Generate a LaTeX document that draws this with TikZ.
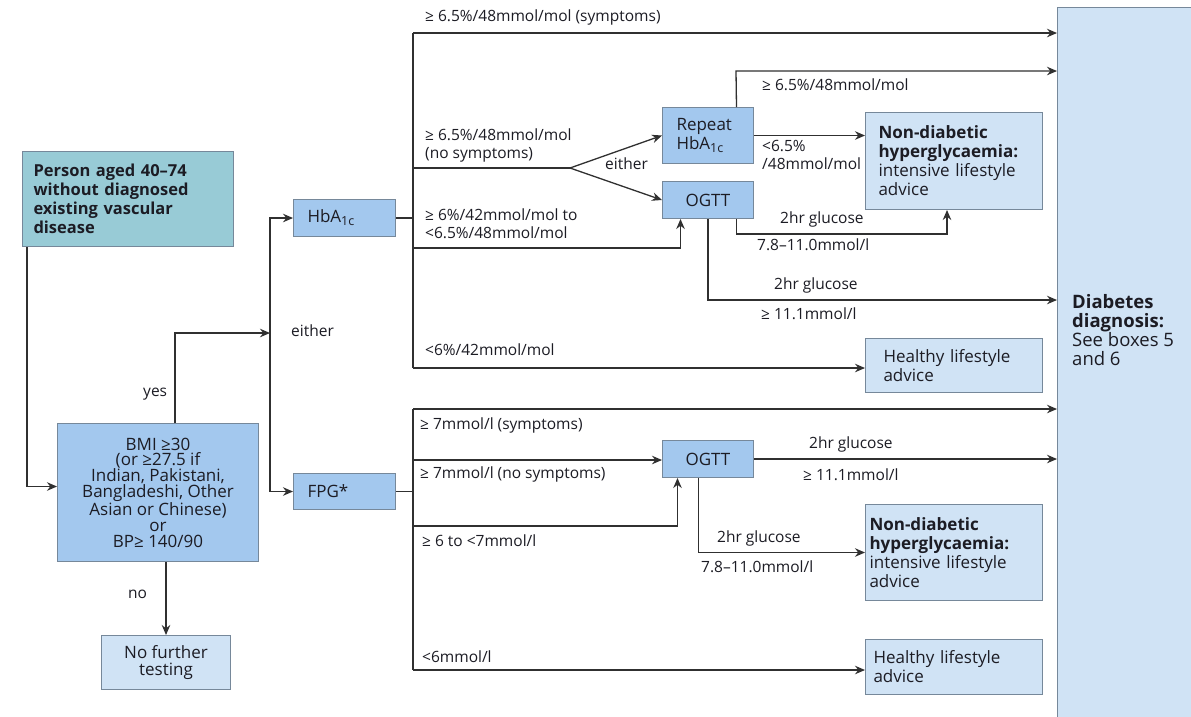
\documentclass[tikz,border=0pt]{standalone}
\usepackage{fontspec}
\setmainfont{Open Sans}
\usetikzlibrary{arrows.meta}

\definecolor{tealfill}{HTML}{98CBD6}
\definecolor{midblue}{HTML}{A3C8EE}
\definecolor{paleblue}{HTML}{D0E3F5}
\definecolor{boxline}{HTML}{76889A}
\definecolor{inkline}{HTML}{303030}
\definecolor{inktext}{HTML}{1C1C24}

% HbA1c with its larger subscript
\newcommand{\hbaonec}{HbA\raisebox{-0.35ex}{\fontsize{12.5}{12.5}\selectfont 1c}}

\tikzset{
    box/.style={draw=boxline, line width=1pt, anchor=north west, inner sep=0pt, text=inktext,
        font=\fontsize{17}{19}\selectfont},
    tealbox/.style={box, fill=tealfill, align=left, inner xsep=11pt},
    midbox/.style={box, fill=midblue},
    palebox/.style={box, fill=paleblue, align=left, inner xsep=13pt},
    lbl/.style={anchor=west, inner sep=0pt, text=inktext, align=left},
    conn/.style={draw=inkline, line width=1.3pt},
    arr/.style={conn, -{Stealth[length=10pt,width=8.5pt]}}
}

\begin{document}
\begin{tikzpicture}[x=1pt,y=-1pt,font=\fontsize{15.5}{18}\selectfont]
    \clip (0,0) rectangle (1191,716);
    \fill[white] (0,0) rectangle (1191,716);

    % Draw the boxes on the left
    \node[tealbox, minimum width=211pt, minimum height=95pt, text width=189pt,
        font=\fontsize{16.5}{19}\selectfont\bfseries] (person) at (22,151)
        {Person aged 40--74\\without diagnosed\\existing vascular\\disease};
    \node[midbox, minimum width=201pt, minimum height=138pt, align=center,
        font=\fontsize{17}{15.8}\selectfont] (bmi) at (57,423)
        {BMI ≥30\\(or ≥27.5 if\\Indian, Pakistani,\\Bangladeshi, Other\\Asian or Chinese)\\or\\BP≥ 140/90};
    \node[box, fill=paleblue, minimum width=129pt, minimum height=54pt, align=center,
        font=\fontsize{17}{17}\selectfont] (nof) at (101,635) {No further\\testing};

    % Draw the first tests
    \node[midbox, minimum width=102pt, minimum height=37pt, align=left,
        inner xsep=14pt, text width=74pt] (hba) at (293,199) {\hbaonec};
    \node[midbox, minimum width=102pt, minimum height=36pt, align=left,
        inner xsep=14pt, text width=74pt] (fpg) at (293,473) {FPG*};

    % Draw the second tests
    \node[midbox, minimum width=91pt, minimum height=56pt, align=left,
        inner xsep=14pt, text width=63pt, font=\fontsize{17}{19}\selectfont] (rep) at (662,107)
        {Repeat\\\hbaonec};
    \node[midbox, minimum width=91pt, minimum height=37pt] (ogtta) at (662,181) {OGTT};
    \node[midbox, minimum width=91pt, minimum height=37pt] (ogttb) at (662,440) {OGTT};

    % Draw the outcome boxes
    \node[palebox, minimum width=177pt, minimum height=97pt, text width=151pt] (nda) at (865,112)
        {\textbf{Non-diabetic}\\\textbf{hyperglycaemia:}\\intensive lifestyle\\advice};
    \node[palebox, minimum width=177pt, minimum height=54pt, text width=141pt, inner xsep=18pt] (hla) at (865,338)
        {Healthy lifestyle\\advice};
    \node[palebox, minimum width=177pt, minimum height=96pt, text width=169pt, inner xsep=4pt] (ndb) at (865,504)
        {\textbf{Non-diabetic}\\\textbf{hyperglycaemia:}\\intensive lifestyle\\advice};
    \node[palebox, minimum width=177pt, minimum height=55pt, text width=161pt, inner xsep=8pt] (hlb) at (865,639)
        {Healthy lifestyle\\advice};
    \node[box, fill=paleblue, minimum width=150pt, minimum height=730pt] (diag) at (1057,7) {};
    \node[lbl, font=\fontsize{18.5}{19.2}\selectfont] (diagtxt) at (1072,330)
        {\textbf{Diabetes}\\\textbf{diagnosis:}\\See boxes 5\\and 6};

    % Connect the screening steps
    \coordinate (split) at (270,333);
    \draw[arr] ([xshift=5pt]person.south west) |- ([yshift=6pt]bmi.west);
    \draw[arr] ([xshift=17pt]bmi.north) |- (split);
    \draw[arr] (split) |- (hba.west);
    \draw[arr] (split) |- (fpg.west);
    \draw[arr] (nof.north |- bmi.south) -- (nof.north);
    \node[lbl] (yes) at (143,394) {yes};
    \node[lbl] (either) at (291,331) {either};
    \node[lbl] (no) at (128,594) {no};

    % HbA1c branches
    \coordinate (ht) at (413,33);
    \coordinate (h2) at (413,168);
    \coordinate (h3) at (413,248);
    \coordinate (hb) at (413,368);
    \coordinate (fork) at (570,168);
    \draw[conn] (hba.east) -- (hba.east -| ht);
    \draw[conn] (ht) -- (hb);
    \draw[arr] (ht) -- (ht -| diag.west);
    \draw[conn] (h2) -- (fork);
    \draw[arr] (fork) -- (rep.west);
    \draw[arr] (fork) -- (ogtta.west);
    \draw[arr] (h3) -| ([xshift=-27.5pt]ogtta.south);
    \draw[arr] (hb) -- (hb -| hla.west);
    \node[lbl] (l1) at (425,17) {≥ 6.5\%/48mmol/mol (symptoms)};
    \node[lbl] (l2) at (425,145) {≥ 6.5\%/48mmol/mol\\(no symptoms)};
    \node[lbl] (l3) at (605,164) {either};
    \node[lbl] (l4) at (425,224) {≥ 6\%/42mmol/mol to\\<6.5\%/48mmol/mol};
    \node[lbl] (l5) at (425,350) {<6\%/42mmol/mol};

    % Repeat HbA1c and OGTT branches
    \coordinate (rt) at (736,71);
    \coordinate (oa1) at (947,234);
    \coordinate (oa2) at (1057,300);
    \draw[arr] ([xshift=28.5pt]rep.north) -- (rt) -- (rt -| diag.west);
    \draw[arr] (rep.east) -- (rep.east -| nda.west);
    \draw[arr] ([xshift=28.5pt]ogtta.south) |- (oa1) -- (oa1 |- nda.south);
    \draw[arr] (ogtta.south) |- (oa2);
    \node[lbl] (l6) at (762,85) {≥ 6.5\%/48mmol/mol};
    \node[lbl] (l7) at (762,155) {<6.5\%\\/48mmol/mol};
    \node[lbl] (l8) at (780,219) {2hr glucose};
    \node[lbl] (l9) at (757,245) {7.8--11.0mmol/l};
    \node[lbl] (l10) at (774,285) {2hr glucose};
    \node[lbl] (l11) at (761,314) {≥ 11.1mmol/l};

    % FPG branches
    \coordinate (ft) at (413,409);
    \coordinate (f2) at (413,460);
    \coordinate (f3) at (413,526);
    \coordinate (fb) at (413,670);
    \draw[conn] (fpg.east) -- (fpg.east -| ft);
    \draw[conn] (ft) -- (fb);
    \draw[arr] (ft) -- (ft -| diag.west);
    \draw[arr] (f2) -- (f2 -| ogttb.west);
    \draw[arr] (f3) -| ([xshift=-30.5pt]ogttb.south);
    \draw[arr] (fb) -- (fb -| hlb.west);
    \draw[arr] (ogttb.east) -- (ogttb.east -| diag.west);
    \draw[arr] ([xshift=-9.5pt]ogttb.south) |- (ndb.west);
    \node[lbl] (l12) at (420,425) {≥ 7mmol/l (symptoms)};
    \node[lbl] (l13) at (420,474) {≥ 7mmol/l (no symptoms)};
    \node[lbl] (l14) at (422,541) {≥ 6 to <7mmol/l};
    \node[lbl] (l15) at (422,657) {<6mmol/l};
    \node[lbl] (l16) at (809,444) {2hr glucose};
    \node[lbl] (l17) at (803,475) {≥ 11.1mmol/l};
    \node[lbl] (l18) at (717,538) {2hr glucose};
    \node[lbl] (l19) at (701,567) {7.8--11.0mmol/l};
\end{tikzpicture}
\end{document}
